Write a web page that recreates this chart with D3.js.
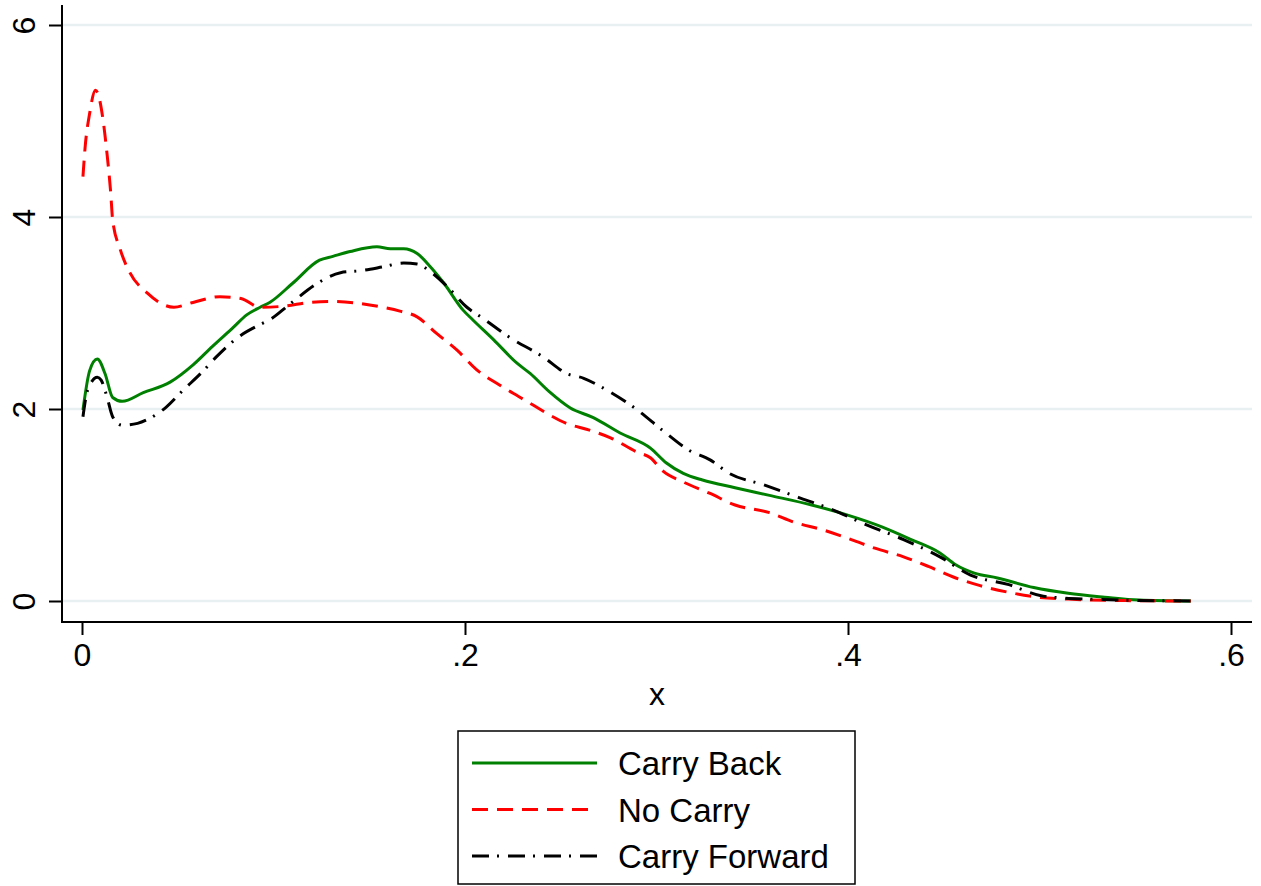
<!DOCTYPE html>
<html>
<head>
<meta charset="utf-8">
<script src="https://cdn.jsdelivr.net/npm/d3@7"></script>
<style>
  body { margin: 0; background: #fff; }
  svg { display: block; font-family: "Liberation Sans", Arial, Helvetica, sans-serif; }
</style>
</head>
<body>
<svg id="chart" width="1261" height="886"></svg>
<script>
// kernel density estimates
const backX = [0.0005, 0.004, 0.008, 0.012, 0.016, 0.021, 0.032, 0.046, 0.058, 0.068, 0.079, 0.086, 0.093, 0.098, 0.110, 0.124, 0.131, 0.140, 0.154, 0.161, 0.168, 0.175, 0.182, 0.189, 0.199, 0.204, 0.215, 0.227, 0.234, 0.244, 0.255, 0.267, 0.281, 0.297, 0.305, 0.314, 0.324, 0.341, 0.359, 0.381, 0.399, 0.418, 0.433, 0.448, 0.456, 0.466, 0.478, 0.497, 0.515, 0.534, 0.552, 0.579];
const backY = [1.99, 2.40, 2.52, 2.37, 2.12, 2.08, 2.17, 2.28, 2.46, 2.65, 2.85, 2.98, 3.06, 3.11, 3.31, 3.55, 3.59, 3.64, 3.69, 3.67, 3.67, 3.62, 3.48, 3.31, 3.03, 2.93, 2.72, 2.48, 2.37, 2.18, 2.01, 1.91, 1.75, 1.59, 1.44, 1.33, 1.26, 1.18, 1.10, 1.00, 0.90, 0.77, 0.64, 0.50, 0.38, 0.29, 0.24, 0.14, 0.08, 0.04, 0.01, 0];

const noX = [0.0005, 0.0016, 0.004, 0.007, 0.008, 0.011, 0.013, 0.015, 0.016, 0.020, 0.025, 0.034, 0.048, 0.058, 0.072, 0.083, 0.093, 0.105, 0.119, 0.130, 0.157, 0.166, 0.175, 0.185, 0.196, 0.206, 0.218, 0.234, 0.244, 0.253, 0.265, 0.276, 0.290, 0.297, 0.303, 0.314, 0.328, 0.341, 0.359, 0.372, 0.387, 0.399, 0.414, 0.429, 0.442, 0.455, 0.469, 0.484, 0.499, 0.515, 0.542, 0.579];
const noY = [4.42, 4.72, 5.08, 5.32, 5.30, 5.01, 4.67, 4.25, 3.97, 3.66, 3.42, 3.21, 3.06, 3.11, 3.17, 3.15, 3.06, 3.07, 3.11, 3.12, 3.06, 3.02, 2.96, 2.79, 2.61, 2.41, 2.25, 2.06, 1.94, 1.85, 1.78, 1.70, 1.55, 1.49, 1.36, 1.24, 1.12, 1.00, 0.92, 0.82, 0.74, 0.66, 0.55, 0.46, 0.36, 0.25, 0.16, 0.09, 0.04, 0.02, 0.005, 0];

const fwdX = [0.0005, 0.003, 0.008, 0.010, 0.013, 0.016, 0.021, 0.029, 0.036, 0.044, 0.053, 0.062, 0.070, 0.081, 0.093, 0.098, 0.109, 0.123, 0.135, 0.145, 0.157, 0.168, 0.175, 0.182, 0.191, 0.201, 0.209, 0.223, 0.241, 0.253, 0.262, 0.272, 0.290, 0.303, 0.317, 0.328, 0.338, 0.356, 0.374, 0.392, 0.410, 0.429, 0.448, 0.464, 0.484, 0.502, 0.524, 0.579];
const fwdY = [1.92, 2.20, 2.33, 2.30, 2.13, 1.92, 1.83, 1.85, 1.91, 2.02, 2.20, 2.37, 2.54, 2.74, 2.88, 2.93, 3.10, 3.31, 3.42, 3.44, 3.48, 3.52, 3.51, 3.43, 3.27, 3.06, 2.95, 2.75, 2.54, 2.37, 2.32, 2.22, 1.99, 1.78, 1.57, 1.47, 1.33, 1.21, 1.08, 0.95, 0.79, 0.64, 0.46, 0.27, 0.17, 0.05, 0.02, 0];

const xTicks = [0, 0.2, 0.4, 0.6];
const xTickLabels = ["0", ".2", ".4", ".6"];
const yTicks = [0, 2, 4, 6];
const seriesNames = ["Carry Back", "No Carry", "Carry Forward"];

const series = [
  { name: seriesNames[0], xs: backX, ys: backY, color: "#008000", dash: null },
  { name: seriesNames[1], xs: noX, ys: noY, color: "#ff0000", dash: "16,9" },
  { name: seriesNames[2], xs: fwdX, ys: fwdY, color: "#000000", dash: "17,8,2,9" }
];

const svg = d3.select("#chart");
const plotLeft = 62, plotRight = 1252, plotTop = 5, plotBottom = 622;

const x = d3.scaleLinear().domain([0, 0.6]).range([82, 1231]);
const y = d3.scaleLinear().domain([0, 6]).range([601, 25]);

// gridlines
svg.append("g")
  .selectAll("line")
  .data(yTicks)
  .enter()
  .append("line")
  .attr("x1", plotLeft)
  .attr("x2", plotRight)
  .attr("y1", d => y(d))
  .attr("y2", d => y(d))
  .attr("stroke", "#e8f0f2")
  .attr("stroke-width", 2.5);

// density curves
const line = d3.line()
  .x(d => x(d[0]))
  .y(d => y(d[1]))
  .curve(d3.curveMonotoneX);

series.forEach(s => {
  const pts = s.xs.map((v, i) => [v, s.ys[i]]);
  svg.append("path")
    .datum(pts)
    .attr("fill", "none")
    .attr("stroke", s.color)
    .attr("stroke-width", 3)
    .attr("stroke-dasharray", s.dash)
    .attr("d", line);
});

// axes
const xAxis = svg.append("g")
  .attr("transform", `translate(0,${plotBottom})`)
  .call(d3.axisBottom(x).tickValues(xTicks).tickSize(13).tickPadding(8)
    .tickFormat((d, i) => xTickLabels[i]));
xAxis.select(".domain").remove();
xAxis.selectAll(".tick line").attr("stroke", "#000").attr("stroke-width", 2);
xAxis.selectAll(".tick text")
  .attr("font-size", 32)
  .attr("fill", "#000")
  .attr("font-family", "Liberation Sans, Arial, sans-serif");

const yAxis = svg.append("g")
  .attr("transform", `translate(${plotLeft},0)`)
  .call(d3.axisLeft(y).tickValues(yTicks).tickSize(13).tickFormat(d3.format("d")));
yAxis.select(".domain").remove();
yAxis.selectAll(".tick line").attr("stroke", "#000").attr("stroke-width", 2);
yAxis.selectAll(".tick text")
  .attr("font-size", 32)
  .attr("fill", "#000")
  .attr("font-family", "Liberation Sans, Arial, sans-serif")
  .attr("text-anchor", "middle")
  .attr("x", null)
  .attr("dy", null)
  .attr("transform", "translate(-27,0) rotate(-90)");

svg.append("line")
  .attr("x1", plotLeft).attr("x2", plotLeft)
  .attr("y1", plotTop).attr("y2", plotBottom + 1)
  .attr("stroke", "#000").attr("stroke-width", 2);
svg.append("line")
  .attr("x1", plotLeft - 1).attr("x2", plotRight)
  .attr("y1", plotBottom).attr("y2", plotBottom)
  .attr("stroke", "#000").attr("stroke-width", 2);

svg.append("text")
  .attr("x", 657)
  .attr("y", 705)
  .attr("text-anchor", "middle")
  .attr("font-size", 32)
  .text("x");

// legend
const legend = svg.append("g");
legend.append("rect")
  .attr("x", 458).attr("y", 731)
  .attr("width", 397).attr("height", 153)
  .attr("fill", "#fff")
  .attr("stroke", "#000")
  .attr("stroke-width", 1.5);

series.forEach((s, i) => {
  const ly = 763 + i * 46.5;
  legend.append("line")
    .attr("x1", 472).attr("x2", 597)
    .attr("y1", ly).attr("y2", ly)
    .attr("stroke", s.color)
    .attr("stroke-width", 3)
    .attr("stroke-dasharray", s.dash);
  legend.append("text")
    .attr("x", 618)
    .attr("y", ly + 12)
    .attr("font-size", 33)
    .text(s.name);
});
</script>
</body>
</html>
